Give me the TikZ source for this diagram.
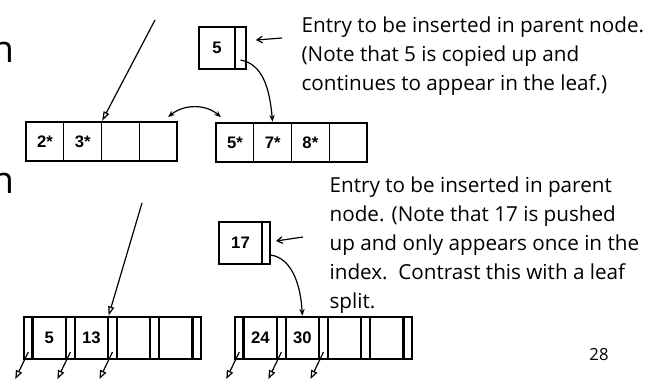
\documentclass[tikz,border=0pt]{standalone}
\usepackage{fontspec}
\setmainfont{Open Sans}
\newfontfamily\keyfont{Liberation Sans}
\usetikzlibrary{positioning}
\usetikzlibrary{arrows.meta}

\begin{document}
\begin{tikzpicture}[
            x = 0.75pt, y = -0.75pt, % pixel grid, y downwards
            > = {Stealth[length=5pt,width=4pt]}, % arrow head style
            shorten > = 1pt, % don't touch arrow head to node
            node distance = 0pt, % cells sit side by side
            line width = 0.9pt
        ]

        \tikzstyle{cell}=[
            draw,
            inner sep = 0pt,
            outer sep = 0pt,
            font = \keyfont\bfseries\fontsize{12.5}{14}\selectfont
        ]
        \tikzstyle{leafcell}=[cell, minimum width = 28.3pt, minimum height = 29.25pt]
        \tikzstyle{keycell}=[cell, minimum width = 25.125pt, minimum height = 31.5pt]
        \tikzstyle{ptrcell}=[cell, minimum width = 6.45pt, minimum height = 31.5pt]
        \tikzstyle{sep}=[line width = 1.7pt, shorten > = 0pt]
        \tikzstyle{hollow}=[-{Triangle[open,length=7pt,width=4.5pt]}]
        \tikzstyle{pointer}=[-{Triangle[open,length=6.5pt,width=5pt]}, shorten > = 0pt]
        \tikzstyle{hint}=[-{Straight Barb[length=4pt,width=5pt]}, shorten > = 0pt]
        \tikzstyle{note}=[align = left, anchor = north west, inner sep = 0pt,
            font = \fontsize{15.5}{21.75}\selectfont]

        \useasboundingbox (0,0) rectangle (653,380);

	% cut off slide text
        \node[anchor = base east, inner sep = 0pt, font = \fontsize{28}{30}\selectfont] (cutA) at (15,62) {n};
        \node[anchor = base east, inner sep = 0pt, font = \fontsize{28}{30}\selectfont] (cutB) at (15,193) {n};

	% leaf split
        \node[leafcell] (A1) at (44.9,141.5) {2*};
        \node[leafcell] (A2) [right = of A1] {3*};
        \node[leafcell] (A3) [right = of A2] {};
        \node[leafcell] (A4) [right = of A3] {};

        \node[leafcell] (B1) at (234.9,142.5) {5*};
        \node[leafcell] (B2) [right = of B1] {7*};
        \node[leafcell] (B3) [right = of B2] {8*};
        \node[leafcell] (B4) [right = of B3] {};

        \node[cell, minimum width = 27pt, minimum height = 31.5pt] (K5) at (217,48) {5};
        \node[cell, minimum width = 8.25pt, minimum height = 31.5pt] (P5) [right = of K5] {};
        \draw[sep] (K5.north east) -- (K5.south east);

        \coordinate (rootA) at (155,20);
        \draw[hollow] (rootA) -- (A2.north east);
        \path[<->] ([xshift=7.5pt,yshift=3.75pt]A4.north) edge[bend left=40] ([xshift=-9.75pt,yshift=3.75pt]B1.north);
        \draw[->] ([yshift=-9pt]P5.center) .. controls +(22,4) and +(-3,-35) .. (B2.north);

        \coordinate (noteA) at (282,38);
        \draw[hint] (noteA) -- ([xshift=7.5pt,yshift=6pt]P5.east);
        \node[note] (textA) at (301,16) {Entry to be inserted in parent node.\\(Note that 5 is copied up and\\continues to appear in the leaf.)};

	% index split
        \node[ptrcell] (LP1) at (28.3,338) {};
        \node[keycell] (LK1) [right = of LP1] {5};
        \node[ptrcell] (LP2) [right = of LK1] {};
        \node[keycell] (LK2) [right = of LP2] {13};
        \node[ptrcell] (LP3) [right = of LK2] {};
        \node[keycell] (LK3) [right = of LP3] {};
        \node[ptrcell] (LP4) [right = of LK3] {};
        \node[keycell] (LK4) [right = of LP4] {};
        \node[ptrcell] (LP5) [right = of LK4] {};

        \node[ptrcell] (RP1) at (239.3,338) {};
        \node[keycell] (RK1) [right = of RP1] {24};
        \node[ptrcell] (RP2) [right = of RK1] {};
        \node[keycell] (RK2) [right = of RP2] {30};
        \node[ptrcell] (RP3) [right = of RK2] {};
        \node[keycell] (RK3) [right = of RP3] {};
        \node[ptrcell] (RP4) [right = of RK3] {};
        \node[keycell] (RK4) [right = of RP4] {};
        \node[ptrcell] (RP5) [right = of RK4] {};

        \draw[sep] (LK1.north west) -- (LK1.south west) (LK1.north east) -- (LK1.south east);
        \draw[sep] (LK2.north west) -- (LK2.south west) (LK2.north east) -- (LK2.south east);
        \draw[sep] (LK3.north west) -- (LK3.south west) (LK3.north east) -- (LK3.south east);
        \draw[sep] (LK4.north west) -- (LK4.south west) (LK4.north east) -- (LK4.south east);
        \draw[sep] (RK1.north west) -- (RK1.south west) (RK1.north east) -- (RK1.south east);
        \draw[sep] (RK2.north west) -- (RK2.south west) (RK2.north east) -- (RK2.south east);
        \draw[sep] (RK3.north west) -- (RK3.south west) (RK3.north east) -- (RK3.south east);
        \draw[sep] (RK4.north west) -- (RK4.south west) (RK4.north east) -- (RK4.south east);

        % child pointers
        \draw[pointer] ([yshift=-10.5pt]LP1.center) -- ++(-13,27);
        \draw[pointer] ([yshift=-10.5pt]LP2.center) -- ++(-13,27);
        \draw[pointer] ([yshift=-10.5pt]LP3.center) -- ++(-13,27);
        \draw[pointer] ([yshift=-10.5pt]RP1.center) -- ++(-13,27);
        \draw[pointer] ([yshift=-10.5pt]RP2.center) -- ++(-13,27);
        \draw[pointer] ([yshift=-10.5pt]RP3.center) -- ++(-13,27);

        \node[cell, minimum width = 32.25pt, minimum height = 31.5pt] (K17) at (240.5,243) {17};
        \node[cell, minimum width = 6pt, minimum height = 31.5pt] (P17) [right = of K17] {};
        \draw[sep] (K17.north east) -- (K17.south east);

        \coordinate (rootB) at (142,203);
        \draw[hollow] (rootB) -- (LK2.north east);
        \draw[->] ([xshift=3.5pt,yshift=-9pt]P17.center) .. controls +(20,3) and +(-2,-35) .. (RK2.north);

        \coordinate (noteB) at (303,237);
        \draw[hint] (noteB) -- ([xshift=4.5pt,yshift=1.5pt]P17.east);
        \node[note] (textB) at (329,176) {Entry to be inserted in parent\\node. (Note that 17 is pushed\\up and only appears once in the\\index.\ \ Contrast this with a leaf\\split.};

        \node[font = \fontsize{12.5}{14}\selectfont] (page) at (599,355) {28};

\end{tikzpicture}
\end{document}
